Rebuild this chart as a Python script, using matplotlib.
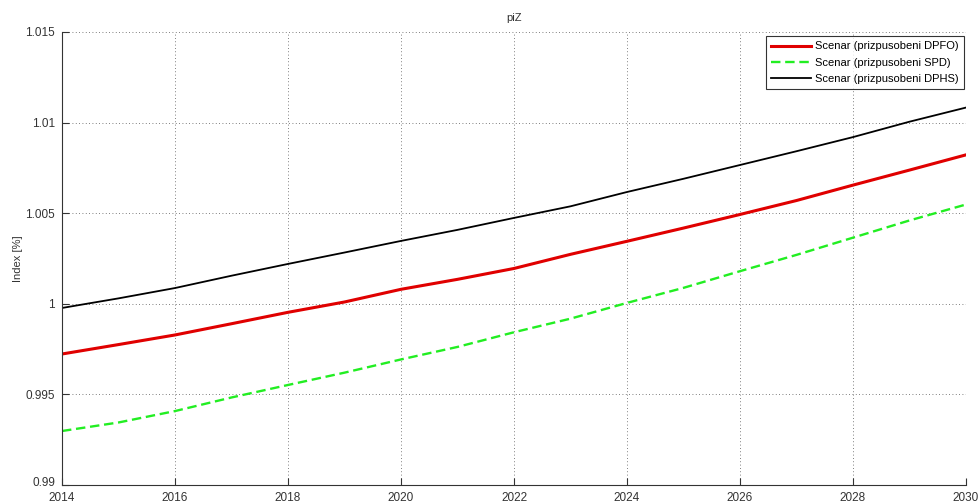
import matplotlib
matplotlib.use("Agg")
import matplotlib.pyplot as plt
from matplotlib.ticker import FixedLocator
import matplotlib.transforms as mtransforms

years = list(range(2014, 2031))
dpfo = [0.99723, 0.99775, 0.99828, 0.99890, 0.99953, 1.00010, 1.00080, 1.00135, 1.00195,
        1.00273, 1.00345, 1.00418, 1.00493, 1.00570, 1.00655, 1.00738, 1.00822]
spd = [0.99298, 0.99345, 0.99408, 0.99483, 0.99552, 0.99620, 0.99693, 0.99762, 0.99843,
       0.99918, 1.00005, 1.00088, 1.00180, 1.00270, 1.00365, 1.00460, 1.00548]
dphs = [0.99977, 1.00030, 1.00087, 1.00155, 1.00220, 1.00283, 1.00347, 1.00408, 1.00474,
        1.00538, 1.00617, 1.00690, 1.00766, 1.00842, 1.00920, 1.01005, 1.01083]
labels = ["Scenar (prizpusobeni DPFO)", "Scenar (prizpusobeni SPD)", "Scenar (prizpusobeni DPHS)"]
xticks = list(range(2014, 2031, 2))
yticks = [0.99, 0.995, 1.0, 1.005, 1.01, 1.015]
yticklabels = ["0.99", "0.995", "1", "1.005", "1.01", "1.015"]

plt.rcParams['font.family'] = ['Liberation Sans', 'DejaVu Sans']
fig = plt.figure(figsize=(9.79, 5.03), dpi=100)
ax = fig.add_axes([62/979, 18/503, (966-62)/979, (485-32)/503])

ax.plot(years, dpfo, color='#e00000', lw=2.2, label=labels[0])
ax.plot(years, spd, color='#22ee22', lw=1.7, ls=(0, (4, 2)), label=labels[1])
ax.plot(years, dphs, color='black', lw=1.3, label=labels[2])

ax.set_xlim(2014, 2030)
ax.set_ylim(0.99, 1.015)
ax.xaxis.set_major_locator(FixedLocator(xticks))
ax.set_xticklabels([str(x) for x in xticks])
ax.yaxis.set_major_locator(FixedLocator(yticks))
ax.set_yticklabels(yticklabels)
ax.tick_params(direction='in', length=5, labelsize=8.5, colors='#333333', labelcolor='#333333')
ax.tick_params(axis='x', pad=5)
ax.tick_params(axis='y', pad=5)
ax.grid(True, ls=(0, (1, 3)), color='#555555', lw=0.6)
ax.spines['top'].set_visible(False)
ax.spines['right'].set_visible(False)
ax.spines['left'].set_color('#333333')
ax.spines['bottom'].set_color('#333333')
ax.set_title('piZ', fontsize=8, color='#333333', pad=8)
ax.set_ylabel('Index [%]', fontsize=8, color='#333333', labelpad=2)

# nudge the lowest y tick label up, as in the reference
lbl = ax.get_yticklabels()[0]
lbl.set_transform(lbl.get_transform() + mtransforms.ScaledTranslation(0, 4/100, fig.dpi_scale_trans))

leg = ax.legend(loc='upper right', bbox_to_anchor=(1.0, 0.995), fontsize=8,
                frameon=True, fancybox=False, edgecolor='black', handlelength=3.6,
                borderpad=0.45, labelspacing=0.55, handletextpad=0.4, borderaxespad=0.2)
leg.get_frame().set_linewidth(0.8)

fig.savefig('out.png', dpi=100)
